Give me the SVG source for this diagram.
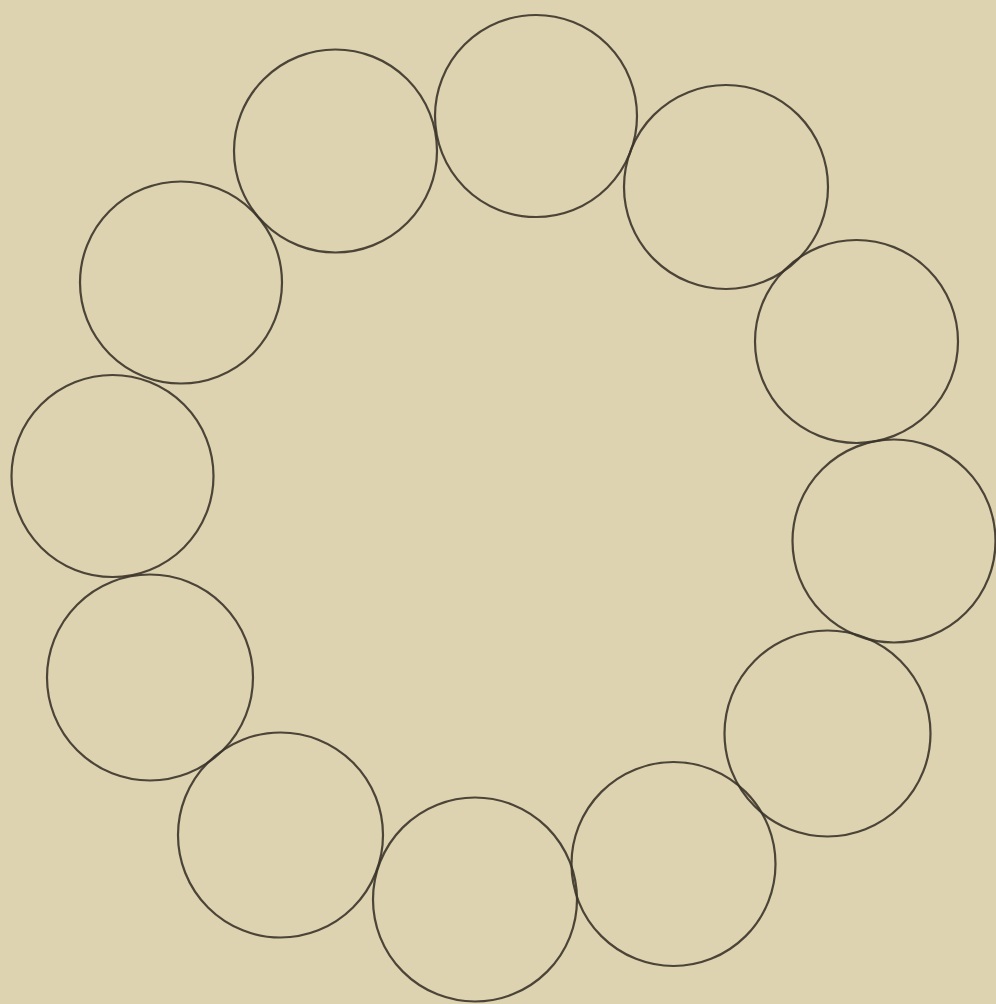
<svg xmlns="http://www.w3.org/2000/svg" width="996" height="1004" viewBox="0 0 996 1004">
<style>
.ring{fill:none;stroke:#3b342a;stroke-width:2.2;opacity:0.9}
</style>
<rect x="0" y="0" width="996" height="1004" fill="#ddd3b1"/>
<g id="c1"><circle class="ring" cx="536" cy="116" r="101"/></g>
<g id="c2"><circle class="ring" cx="335.5" cy="151" r="101.5"/></g>
<g id="c3"><circle class="ring" cx="181" cy="282.5" r="101"/></g>
<g id="c4"><circle class="ring" cx="112.5" cy="476" r="101"/></g>
<g id="c5"><circle class="ring" cx="150" cy="677.5" r="103"/></g>
<g id="c6"><circle class="ring" cx="280.5" cy="835" r="102.5"/></g>
<g id="c7"><circle class="ring" cx="475" cy="899.5" r="102"/></g>
<g id="c8"><circle class="ring" cx="673.5" cy="864" r="102"/></g>
<g id="c9"><circle class="ring" cx="827.5" cy="733.5" r="103"/></g>
<g id="c10"><circle class="ring" cx="894" cy="541" r="101.5"/></g>
<g id="c11"><circle class="ring" cx="856.5" cy="341.5" r="101.5"/></g>
<g id="c12"><circle class="ring" cx="726" cy="187" r="102"/></g>
<g id="connectors"></g>
</svg>
